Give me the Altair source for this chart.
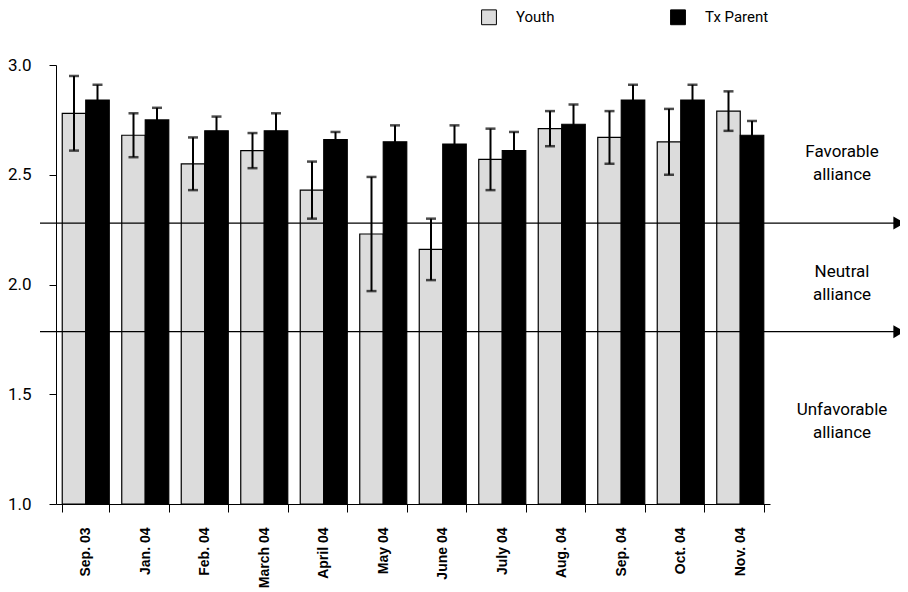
import altair as alt
import pandas as pd

months = ["Sep. 03", "Jan. 04", "Feb. 04", "March 04", "April 04", "May 04",
          "June 04", "July 04", "Aug. 04", "Sep. 04", "Oct. 04", "Nov. 04"]
series = ["Youth", "Tx Parent"]
youth = [2.78, 2.68, 2.55, 2.61, 2.43, 2.23, 2.16, 2.57, 2.71, 2.67, 2.65, 2.79]
youth_err = [0.17, 0.10, 0.12, 0.08, 0.13, 0.26, 0.14, 0.14, 0.08, 0.12, 0.15, 0.09]
parent = [2.84, 2.75, 2.70, 2.70, 2.66, 2.65, 2.64, 2.61, 2.73, 2.84, 2.84, 2.68]
parent_err = [0.07, 0.055, 0.065, 0.08, 0.035, 0.075, 0.085, 0.085, 0.09, 0.07, 0.07, 0.065]
zone_lines = [2.28, 1.785]
zone_labels = [["Favorable", "alliance"], ["Neutral", "alliance"], ["Unfavorable", "alliance"]]
zone_label_y = [2.605, 2.055, 1.43]
y_ticks = [1.0, 1.5, 2.0, 2.5, 3.0]

rows = []
for i, m in enumerate(months):
    rows.append({"month": m, "series": "Youth", "value": youth[i],
                 "lo": youth[i] - youth_err[i], "hi": youth[i] + youth_err[i]})
    rows.append({"month": m, "series": "Tx Parent", "value": parent[i],
                 "lo": parent[i] - parent_err[i], "hi": parent[i] + parent_err[i]})
df = pd.DataFrame(rows)

FONT = "Roboto, Liberation Sans, sans-serif"

x_enc = alt.X("month:N", sort=months,
              scale=alt.Scale(paddingInner=0.21, paddingOuter=0.105),
              axis=alt.Axis(title=None, labelAngle=270, labelAlign="right",
                            labelBaseline="middle", labelFont="Liberation Sans",
                            labelFontWeight="bold", labelFontSize=14,
                            labelColor="black", labelPadding=15, tickSize=8,
                            tickBand="extent", tickColor="black",
                            domainColor="black", labelOverlap=False))
xo_enc = alt.XOffset("series:N", sort=series, scale=alt.Scale(paddingInner=0, paddingOuter=0))
y_scale = alt.Scale(domain=[1, 3], zero=False, nice=False)

bars = alt.Chart(df).mark_bar(stroke="black", strokeWidth=1.2).encode(
    x=x_enc,
    xOffset=xo_enc,
    y=alt.Y("value:Q", scale=y_scale,
            axis=alt.Axis(title=None, values=y_ticks, format=".1f",
                          labelFont=FONT, labelFontSize=17, labelColor="black",
                          labelPadding=18, tickSize=7, tickColor="black",
                          domainColor="black", grid=False)),
    y2=alt.datum(1.0),
    color=alt.Color("series:N", sort=series,
                    scale=alt.Scale(domain=series, range=["#dcdcdc", "black"]),
                    legend=alt.Legend(title=None, orient="none", direction="horizontal",
                                      legendX=425, legendY=-56, symbolType="square",
                                      symbolSize=220, symbolStrokeColor="black",
                                      symbolStrokeWidth=1, labelFont=FONT,
                                      labelFontSize=15, labelColor="black",
                                      labelOffset=19, columnPadding=113, padding=0)),
)

err = alt.Chart(df).mark_rule(color="black", strokeWidth=2).encode(
    x=alt.X("month:N", sort=months), xOffset=xo_enc,
    y=alt.Y("lo:Q", scale=y_scale), y2="hi:Q")
cap_hi = alt.Chart(df).mark_tick(color="black", thickness=2.5, size=10).encode(
    x=alt.X("month:N", sort=months), xOffset=xo_enc, y=alt.Y("hi:Q", scale=y_scale))
cap_lo = alt.Chart(df).mark_tick(color="black", thickness=2.5, size=10).encode(
    x=alt.X("month:N", sort=months), xOffset=xo_enc, y=alt.Y("lo:Q", scale=y_scale))

lines_df = pd.DataFrame({"level": zone_lines})
zlines = alt.Chart(lines_df).mark_rule(color="black", strokeWidth=1.3).encode(
    x=alt.value(-16), x2=alt.value(838), y=alt.Y("level:Q", scale=y_scale))
arrows = alt.Chart(lines_df).mark_point(shape="triangle-right", filled=True,
                                        color="black", size=170, opacity=1).encode(
    x=alt.value(843), y=alt.Y("level:Q", scale=y_scale))

labels_df = pd.DataFrame({"label": zone_labels, "pos": zone_label_y})
zlabels = alt.Chart(labels_df).mark_text(font=FONT, fontSize=17, color="black",
                                         align="center", baseline="middle",
                                         lineHeight=23).encode(
    x=alt.value(786), y=alt.Y("pos:Q", scale=y_scale), text="label")

chart = alt.layer(bars, err, cap_hi, cap_lo, zlines, arrows, zlabels).properties(
    width=714, height=439,
    autosize=alt.AutoSizeParams(type="none"),
    padding={"left": 48, "top": 57, "right": 130, "bottom": 88},
).configure_view(stroke=None).configure_axis(grid=False)

chart.save("out.html", embed_options={"renderer": "svg", "actions": False})
